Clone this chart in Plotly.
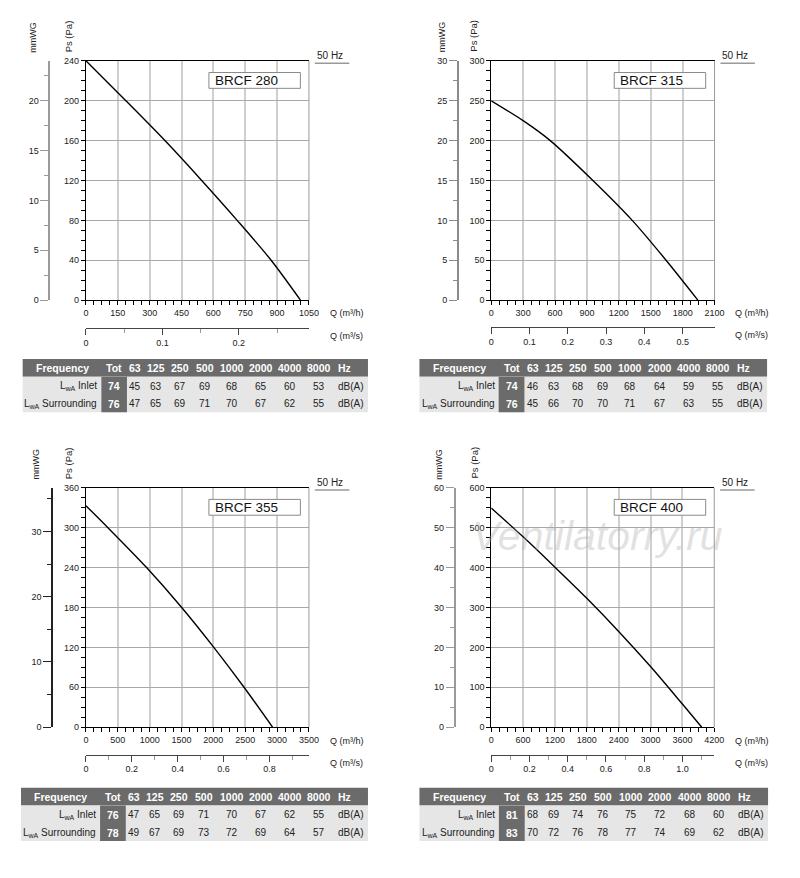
import plotly.graph_objects as go

W, H = 800, 878

models = ["BRCF 280", "BRCF 315", "BRCF 355", "BRCF 400"]

# fan curves: airflow Q (m³/h) vs static pressure Ps (Pa)
q_280 = [0, 188, 372, 545, 712, 872, 1010]
ps_280 = [240, 200, 160, 120, 80, 40, 0]
q_315 = [0, 300, 555, 956, 1326, 1644, 1943]
ps_315 = [250, 225, 200, 150, 100, 50, 0]
q_355 = [0, 345, 952, 1503, 2007, 2481, 2929]
ps_355 = [333, 300, 240, 180, 120, 60, 0]
q_400 = [0, 600, 1200, 1800, 2400, 3000, 3600, 3965]
ps_400 = [549, 477, 401, 323, 240, 152, 58, 0]

# axis extents / tick steps
q_max = [1050, 2100, 3500, 4200]
q_step = [150, 300, 500, 600]
ps_max = [240, 300, 360, 600]
ps_step = [40, 50, 60, 100]
mmwg_max = [24, 30, 36.71, 60]
mmwg_step = [5, 5, 10, 10]
qs_ticks = [[0, 0.1, 0.2], [0, 0.1, 0.2, 0.3, 0.4, 0.5],
            [0, 0.2, 0.4, 0.6, 0.8], [0, 0.2, 0.4, 0.6, 0.8, 1.0]]
qs_labels = [["0", "0.1", "0.2"], ["0", "0.1", "0.2", "0.3", "0.4", "0.5"],
             ["0", "0.2", "0.4", "0.6", "0.8"], ["0", "0.2", "0.4", "0.6", "0.8", "1.0"]]
qs_minor = [0.05, None, 0.1, 0.1]

# sound power levels
freq_bands = ["63", "125", "250", "500", "1000", "2000", "4000", "8000"]
row_labels = ["L<sub>wA</sub> Inlet", "L<sub>wA</sub> Surrounding"]
tot_280 = [74, 76]
inlet_280 = [45, 63, 67, 69, 68, 65, 60, 53]
surr_280 = [47, 65, 69, 71, 70, 67, 62, 55]
tot_315 = [74, 76]
inlet_315 = [46, 63, 68, 69, 68, 64, 59, 55]
surr_315 = [45, 66, 70, 70, 71, 67, 63, 55]
tot_355 = [76, 78]
inlet_355 = [47, 65, 69, 71, 70, 67, 62, 55]
surr_355 = [49, 67, 69, 73, 72, 69, 64, 57]
tot_400 = [81, 83]
inlet_400 = [68, 69, 74, 76, 75, 72, 68, 60]
surr_400 = [70, 72, 76, 78, 77, 74, 69, 62]

curves = [(q_280, ps_280), (q_315, ps_315), (q_355, ps_355), (q_400, ps_400)]
sound = [(tot_280, inlet_280, surr_280), (tot_315, inlet_315, surr_315),
         (tot_355, inlet_355, surr_355), (tot_400, inlet_400, surr_400)]

# layout in pixels
plot_px = [(84.3, 311, 56.5, 298.5), (496.3, 723.3, 56.5, 298.5),
           (84.3, 311, 488.3, 730.5), (496.3, 723, 488.3, 730.5)]
mm_x = [47, 462.3, 50, 459]
qs_y = [326.7, 325.7, 758.3, 758.3]
mm_color = ["#9a9a9a", "#8a8a8a", "#222222", "#9a9a9a"]
table_px = [(20, 371, 358), (423.3, 776.7, 358), (18.3, 371, 791.7), (423.3, 777.7, 791.7)]
col_w = [80, 26, 17, 25, 24, 26, 30, 29, 30, 29, 35]
ROW = 18

FONT = "Liberation Sans, Arial, sans-serif"
tick_font = dict(family=FONT, size=9, color="#222")
DARK, LIGHT = "#6b6b6b", "#e6e6e6"


def fx(px):
    return px / W


def fy(py):
    return 1 - py / H


def text(s, x, y, size=10, color="#222", anchor="center", angle=0, bold=False, **kw):
    if bold:
        s = f"<b>{s}</b>"
    annotations.append(dict(text=s, xref="paper", yref="paper", x=fx(x), y=fy(y),
                            xanchor=anchor, yanchor="middle", showarrow=False,
                            textangle=angle,
                            font=dict(family=FONT, size=size, color=color), **kw))


def box(x0, x1, y0, y1, fill, line=None):
    shapes.append(dict(type="rect", xref="paper", yref="paper", layer="below",
                       x0=fx(x0), x1=fx(x1), y0=fy(y1), y1=fy(y0),
                       fillcolor=fill, line=dict(width=1 if line else 0, color=line or fill)))


fig = go.Figure()
layout = {}
shapes = []
annotations = []

for k in range(4):
    xa, xb = 2 * k + 1, 2 * k + 2
    l, r, t, b = plot_px[k]
    q, ps = curves[k]

    fig.add_trace(go.Scatter(
        x=q, y=ps, mode="lines",
        line=dict(color="black", width=1.4, shape="spline", smoothing=0.8),
        xaxis=f"x{xa}", yaxis=f"y{xa}", showlegend=False,
    ))
    # twin trace on the m³/s / mmWG axes so they get drawn
    fig.add_trace(go.Scatter(
        x=[v / 3600 for v in q], y=[p * mmwg_max[k] / ps_max[k] for p in ps],
        mode="lines", line=dict(width=0), opacity=0,
        xaxis=f"x{xb}", yaxis=f"y{xb}", showlegend=False, hoverinfo="skip",
    ))

    layout[f"xaxis{xa}"] = dict(
        domain=[fx(l), fx(r)], anchor=f"y{xa}", range=[0, q_max[k]],
        tick0=0, dtick=q_step[k], ticks="outside", ticklen=4, tickcolor="black",
        showline=True, linecolor="black", linewidth=1, mirror=True,
        showgrid=True, gridcolor="#cfcfcf", gridwidth=1.5, zeroline=False,
        tickfont=tick_font,
        minor=dict(dtick=q_step[k] / 4, ticks="outside", ticklen=4,
                   tickcolor="black", showgrid=False),
    )
    layout[f"yaxis{xa}"] = dict(
        domain=[fy(b), fy(t)], anchor=f"x{xa}", range=[0, ps_max[k]],
        tick0=0, dtick=ps_step[k], ticks="outside", ticklen=4, tickcolor="black",
        showline=True, linecolor="black", linewidth=1,
        showgrid=True, gridcolor="#a8a8a8", gridwidth=1, zeroline=False,
        tickfont=tick_font,
        minor=dict(dtick=ps_step[k] / 4, ticks="outside", ticklen=4,
                   tickcolor="black", showgrid=False),
    )
    xb_axis = dict(
        overlaying=f"x{xa}", anchor="free", position=fy(qs_y[k]), side="bottom",
        range=[0, q_max[k] / 3600], tickmode="array",
        tickvals=qs_ticks[k], ticktext=qs_labels[k],
        ticks="outside", ticklen=6, tickcolor="#444",
        showline=True, linecolor="#444", linewidth=1,
        showgrid=False, zeroline=False, tickfont=tick_font,
    )
    if qs_minor[k]:
        xb_axis["minor"] = dict(tick0=0, dtick=qs_minor[k], ticks="outside",
                                ticklen=4, tickcolor="#999", showgrid=False)
    layout[f"xaxis{xb}"] = xb_axis
    layout[f"yaxis{xb}"] = dict(
        overlaying=f"y{xa}", anchor="free", position=fx(mm_x[k]), side="left",
        range=[0, mmwg_max[k]], tick0=0, dtick=mmwg_step[k],
        ticks="outside", ticklen=8, tickcolor=mm_color[k],
        showline=True, linecolor=mm_color[k], linewidth=1.5,
        showgrid=False, zeroline=False, tickfont=tick_font,
        minor=dict(dtick=mmwg_step[k] / 2, ticks="outside", ticklen=4,
                   tickcolor=mm_color[k], showgrid=False),
    )

    # right border of the plot box
    shapes.append(dict(type="line", xref="paper", yref="paper",
                       x0=fx(r), x1=fx(r), y0=fy(b), y1=fy(t),
                       line=dict(color="#999", width=1)))

    # model name box
    bx0, bx1 = l + 125, l + 218
    by0, by1 = t + 11.8, t + 27.8
    shapes.append(dict(type="rect", xref="paper", yref="paper",
                       x0=fx(bx0), x1=fx(bx1), y0=fy(by1), y1=fy(by0),
                       line=dict(color="#8a8a8a", width=1), fillcolor="white"))
    text(models[k], bx0 + 4, (by0 + by1) / 2, size=13.5, color="#111", anchor="left")

    # 50 Hz legend
    text("50 Hz", r + 6, t - 5, size=10, anchor="left")
    shapes.append(dict(type="line", xref="paper", yref="paper",
                       x0=fx(r + 6), x1=fx(r + 41), y0=fy(t + 2.3), y1=fy(t + 2.3),
                       line=dict(color="#999", width=1.5)))

    # axis titles
    text("mmWG", mm_x[k] - 16, t - 24, size=9, angle=-90)
    text("Ps (Pa)", l - 18, t - 25, size=9.5, angle=-90)
    text("Q (m³/h)", r + 19, b + 13.5, size=9, anchor="left")
    text("Q (m³/s)", r + 19, qs_y[k] + 8.5, size=9, anchor="left")

    # sound power table
    tx0, tx1, ty0 = table_px[k]
    tot, inlet, surr = sound[k]
    sc = (tx1 - tx0) / sum(col_w)
    edges = [tx0]
    for w in col_w:
        edges.append(edges[-1] + w * sc)
    mids = [(edges[i] + edges[i + 1]) / 2 for i in range(len(col_w))]
    box(tx0, tx1, ty0, ty0 + ROW, DARK)
    box(tx0, tx1, ty0 + ROW, ty0 + 3 * ROW, LIGHT)
    box(edges[1], edges[2], ty0 + ROW, ty0 + 3 * ROW, DARK)

    hy = ty0 + ROW / 2 + 0.5
    text("Frequency", mids[0], hy, size=10.5, color="white", bold=True)
    text("Tot", mids[1], hy, size=10.5, color="white", bold=True)
    for i, f in enumerate(freq_bands):
        text(f, mids[i + 2], hy, size=10.5, color="white", bold=True)
    text("Hz", edges[10] + 3, hy, size=10.5, color="white", bold=True, anchor="left")

    rows = [inlet, surr]
    for j in range(2):
        ry = ty0 + ROW * (j + 1.5) + 0.5
        text(row_labels[j], edges[1] - 2, ry, size=10, anchor="right")
        text(str(tot[j]), mids[1], ry, size=10.5, color="white", bold=True)
        for i, v in enumerate(rows[j]):
            text(str(v), mids[i + 2], ry, size=10)
        text("dB(A)", mids[10], ry, size=10)

# site watermark on the last chart
annotations.append(dict(text="Ventilatorry.ru", xref="paper", yref="paper",
                        x=fx(604), y=fy(537), xanchor="center", yanchor="middle",
                        showarrow=False,
                        font=dict(family=FONT, size=41, color="rgba(170,170,170,0.35)",
                                  style="italic")))

fig.update_layout(
    width=W, height=H, margin=dict(l=0, r=0, t=0, b=0),
    paper_bgcolor="white", plot_bgcolor="white",
    showlegend=False, shapes=shapes, annotations=annotations,
    font=dict(family=FONT),
    **layout,
)

fig.write_html("out.html", config={"displayModeBar": False},
               post_script="document.body.style.margin='0';")
